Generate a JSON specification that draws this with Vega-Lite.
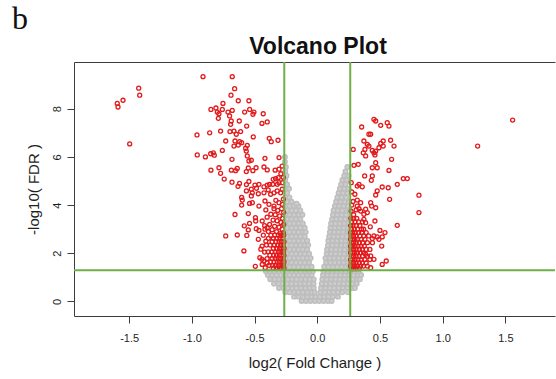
{
  "$schema": "https://vega.github.io/schema/vega-lite/v6.json",
  "padding": {"left": 12, "top": 3, "right": 0, "bottom": 6},
  "background": "white",
  "title": {"text": "b", "font": "Liberation Serif", "fontSize": 32, "fontWeight": "normal", "color": "#111111", "anchor": "start", "frame": "bounds", "dx": -14, "offset": 0},
  "datasets": {
    "gray": [
      {"x":-0.125,"y":0.02},{"x":-0.09,"y":0.02},{"x":-0.055,"y":0.02},{"x":-0.02,"y":0.02},{"x":0.015,"y":0.02},{"x":0.05,"y":0.02},{"x":0.085,"y":0.02},{"x":0.115,"y":0.02},
      {"x":-0.185,"y":0.2},{"x":-0.15,"y":0.2},{"x":-0.115,"y":0.2},{"x":-0.08,"y":0.2},{"x":-0.045,"y":0.2},{"x":-0.015,"y":0.2},{"x":0.02,"y":0.2},{"x":0.055,"y":0.2},{"x":0.09,"y":0.2},{"x":0.125,"y":0.2},{"x":0.165,"y":0.2},
      {"x":-0.255,"y":0.38},{"x":-0.22,"y":0.38},{"x":-0.185,"y":0.38},{"x":-0.15,"y":0.38},{"x":-0.115,"y":0.38},{"x":-0.08,"y":0.38},{"x":-0.045,"y":0.38},{"x":-0.02,"y":0.38},{"x":0.025,"y":0.38},{"x":0.06,"y":0.38},{"x":0.095,"y":0.38},{"x":0.13,"y":0.38},{"x":0.165,"y":0.38},{"x":0.2,"y":0.38},{"x":0.245,"y":0.38},
      {"x":-0.305,"y":0.56},{"x":-0.27,"y":0.56},{"x":-0.235,"y":0.56},{"x":-0.2,"y":0.56},{"x":-0.165,"y":0.56},{"x":-0.13,"y":0.56},{"x":-0.095,"y":0.56},{"x":-0.06,"y":0.56},{"x":-0.028,"y":0.56},{"x":0.03,"y":0.56},{"x":0.065,"y":0.56},{"x":0.1,"y":0.56},{"x":0.135,"y":0.56},{"x":0.17,"y":0.56},{"x":0.205,"y":0.56},{"x":0.24,"y":0.56},{"x":0.275,"y":0.56},{"x":0.3,"y":0.56},
      {"x":-0.345,"y":0.74},{"x":-0.31,"y":0.74},{"x":-0.275,"y":0.74},{"x":-0.24,"y":0.74},{"x":-0.205,"y":0.74},{"x":-0.17,"y":0.74},{"x":-0.135,"y":0.74},{"x":-0.1,"y":0.74},{"x":-0.065,"y":0.74},{"x":-0.03,"y":0.74},{"x":0.035,"y":0.74},{"x":0.07,"y":0.74},{"x":0.105,"y":0.74},{"x":0.14,"y":0.74},{"x":0.175,"y":0.74},{"x":0.21,"y":0.74},{"x":0.245,"y":0.74},{"x":0.28,"y":0.74},{"x":0.315,"y":0.74},
      {"x":-0.375,"y":0.92},{"x":-0.34,"y":0.92},{"x":-0.305,"y":0.92},{"x":-0.27,"y":0.92},{"x":-0.235,"y":0.92},{"x":-0.2,"y":0.92},{"x":-0.165,"y":0.92},{"x":-0.13,"y":0.92},{"x":-0.095,"y":0.92},{"x":-0.06,"y":0.92},{"x":-0.028,"y":0.92},{"x":0.04,"y":0.92},{"x":0.075,"y":0.92},{"x":0.11,"y":0.92},{"x":0.145,"y":0.92},{"x":0.18,"y":0.92},{"x":0.215,"y":0.92},{"x":0.25,"y":0.92},{"x":0.285,"y":0.92},{"x":0.32,"y":0.92},{"x":0.34,"y":0.92},
      {"x":-0.395,"y":1.1},{"x":-0.36,"y":1.1},{"x":-0.325,"y":1.1},{"x":-0.29,"y":1.1},{"x":-0.255,"y":1.1},{"x":-0.22,"y":1.1},{"x":-0.185,"y":1.1},{"x":-0.15,"y":1.1},{"x":-0.115,"y":1.1},{"x":-0.08,"y":1.1},{"x":-0.045,"y":1.1},{"x":0.045,"y":1.1},{"x":0.08,"y":1.1},{"x":0.115,"y":1.1},{"x":0.15,"y":1.1},{"x":0.185,"y":1.1},{"x":0.22,"y":1.1},{"x":0.255,"y":1.1},{"x":0.29,"y":1.1},{"x":0.325,"y":1.1},{"x":0.35,"y":1.1},
      {"x":-0.41,"y":1.26},{"x":-0.378,"y":1.26},{"x":-0.343,"y":1.26},{"x":-0.308,"y":1.26},{"x":-0.273,"y":1.26},{"x":-0.238,"y":1.26},{"x":-0.203,"y":1.26},{"x":-0.168,"y":1.26},{"x":-0.133,"y":1.26},{"x":-0.098,"y":1.26},{"x":-0.063,"y":1.26},{"x":-0.035,"y":1.26},{"x":0.05,"y":1.26},{"x":0.085,"y":1.26},{"x":0.12,"y":1.26},{"x":0.155,"y":1.26},{"x":0.19,"y":1.26},{"x":0.225,"y":1.26},{"x":0.26,"y":1.26},{"x":0.295,"y":1.26},{"x":0.33,"y":1.26},
      {"x":-0.255,"y":1.44},{"x":-0.22,"y":1.44},{"x":-0.185,"y":1.44},{"x":-0.15,"y":1.44},{"x":-0.115,"y":1.44},{"x":-0.08,"y":1.44},{"x":-0.045,"y":1.44},{"x":0.055,"y":1.44},{"x":0.09,"y":1.44},{"x":0.125,"y":1.44},{"x":0.16,"y":1.44},{"x":0.195,"y":1.44},{"x":0.23,"y":1.44},{"x":0.255,"y":1.44},
      {"x":-0.24,"y":1.62},{"x":-0.205,"y":1.62},{"x":-0.17,"y":1.62},{"x":-0.135,"y":1.62},{"x":-0.1,"y":1.62},{"x":-0.065,"y":1.62},{"x":0.07,"y":1.62},{"x":0.105,"y":1.62},{"x":0.14,"y":1.62},{"x":0.175,"y":1.62},{"x":0.21,"y":1.62},{"x":0.245,"y":1.62},
      {"x":-0.255,"y":1.8},{"x":-0.22,"y":1.8},{"x":-0.185,"y":1.8},{"x":-0.15,"y":1.8},{"x":-0.115,"y":1.8},{"x":-0.08,"y":1.8},{"x":-0.052,"y":1.8},{"x":0.065,"y":1.8},{"x":0.1,"y":1.8},{"x":0.135,"y":1.8},{"x":0.17,"y":1.8},{"x":0.205,"y":1.8},{"x":0.24,"y":1.8},
      {"x":-0.24,"y":1.98},{"x":-0.205,"y":1.98},{"x":-0.17,"y":1.98},{"x":-0.135,"y":1.98},{"x":-0.1,"y":1.98},{"x":-0.065,"y":1.98},{"x":0.075,"y":1.98},{"x":0.11,"y":1.98},{"x":0.145,"y":1.98},{"x":0.18,"y":1.98},{"x":0.215,"y":1.98},{"x":0.25,"y":1.98},
      {"x":-0.255,"y":2.16},{"x":-0.22,"y":2.16},{"x":-0.185,"y":2.16},{"x":-0.15,"y":2.16},{"x":-0.115,"y":2.16},{"x":-0.08,"y":2.16},{"x":0.078,"y":2.16},{"x":0.113,"y":2.16},{"x":0.148,"y":2.16},{"x":0.183,"y":2.16},{"x":0.218,"y":2.16},{"x":0.253,"y":2.16},
      {"x":-0.24,"y":2.34},{"x":-0.205,"y":2.34},{"x":-0.17,"y":2.34},{"x":-0.135,"y":2.34},{"x":-0.1,"y":2.34},{"x":-0.072,"y":2.34},{"x":0.085,"y":2.34},{"x":0.12,"y":2.34},{"x":0.155,"y":2.34},{"x":0.19,"y":2.34},{"x":0.225,"y":2.34},{"x":0.255,"y":2.34},
      {"x":-0.255,"y":2.52},{"x":-0.22,"y":2.52},{"x":-0.185,"y":2.52},{"x":-0.15,"y":2.52},{"x":-0.115,"y":2.52},{"x":-0.08,"y":2.52},{"x":0.088,"y":2.52},{"x":0.123,"y":2.52},{"x":0.158,"y":2.52},{"x":0.193,"y":2.52},{"x":0.228,"y":2.52},{"x":0.256,"y":2.52},
      {"x":-0.24,"y":2.7},{"x":-0.205,"y":2.7},{"x":-0.17,"y":2.7},{"x":-0.135,"y":2.7},{"x":-0.1,"y":2.7},{"x":0.095,"y":2.7},{"x":0.13,"y":2.7},{"x":0.165,"y":2.7},{"x":0.2,"y":2.7},{"x":0.235,"y":2.7},
      {"x":-0.255,"y":2.88},{"x":-0.22,"y":2.88},{"x":-0.185,"y":2.88},{"x":-0.15,"y":2.88},{"x":-0.115,"y":2.88},{"x":-0.092,"y":2.88},{"x":0.1,"y":2.88},{"x":0.135,"y":2.88},{"x":0.17,"y":2.88},{"x":0.205,"y":2.88},{"x":0.24,"y":2.88},{"x":0.257,"y":2.88},
      {"x":-0.24,"y":3.06},{"x":-0.205,"y":3.06},{"x":-0.17,"y":3.06},{"x":-0.135,"y":3.06},{"x":-0.1,"y":3.06},{"x":0.105,"y":3.06},{"x":0.14,"y":3.06},{"x":0.175,"y":3.06},{"x":0.21,"y":3.06},{"x":0.245,"y":3.06},
      {"x":-0.255,"y":3.24},{"x":-0.22,"y":3.24},{"x":-0.185,"y":3.24},{"x":-0.15,"y":3.24},{"x":-0.115,"y":3.24},{"x":0.11,"y":3.24},{"x":0.145,"y":3.24},{"x":0.18,"y":3.24},{"x":0.215,"y":3.24},{"x":0.25,"y":3.24},
      {"x":-0.24,"y":3.42},{"x":-0.205,"y":3.42},{"x":-0.17,"y":3.42},{"x":-0.135,"y":3.42},{"x":0.118,"y":3.42},{"x":0.153,"y":3.42},{"x":0.188,"y":3.42},{"x":0.223,"y":3.42},{"x":0.256,"y":3.42},
      {"x":-0.255,"y":3.6},{"x":-0.22,"y":3.6},{"x":-0.185,"y":3.6},{"x":-0.15,"y":3.6},{"x":-0.118,"y":3.6},{"x":0.125,"y":3.6},{"x":0.16,"y":3.6},{"x":0.195,"y":3.6},{"x":0.23,"y":3.6},
      {"x":-0.24,"y":3.78},{"x":-0.205,"y":3.78},{"x":-0.17,"y":3.78},{"x":-0.135,"y":3.78},{"x":0.13,"y":3.78},{"x":0.165,"y":3.78},{"x":0.2,"y":3.78},{"x":0.235,"y":3.78},{"x":0.257,"y":3.78},
      {"x":-0.255,"y":3.96},{"x":-0.22,"y":3.96},{"x":-0.185,"y":3.96},{"x":-0.15,"y":3.96},{"x":0.14,"y":3.96},{"x":0.175,"y":3.96},{"x":0.21,"y":3.96},{"x":0.245,"y":3.96},
      {"x":-0.24,"y":4.14},{"x":-0.205,"y":4.14},{"x":-0.165,"y":4.06},{"x":0.15,"y":4.14},{"x":0.185,"y":4.14},{"x":0.22,"y":4.14},{"x":0.255,"y":4.14},
      {"x":-0.255,"y":4.32},{"x":-0.222,"y":4.32},{"x":0.16,"y":4.32},{"x":0.195,"y":4.32},{"x":0.23,"y":4.32},
      {"x":-0.24,"y":4.5},{"x":0.17,"y":4.5},{"x":0.205,"y":4.5},{"x":0.24,"y":4.5},
      {"x":-0.255,"y":4.68},{"x":-0.225,"y":4.68},{"x":0.18,"y":4.68},{"x":0.215,"y":4.68},{"x":0.25,"y":4.68},
      {"x":-0.24,"y":4.86},{"x":0.19,"y":4.86},{"x":0.225,"y":4.86},
      {"x":-0.255,"y":5.04},{"x":0.2,"y":5.04},{"x":0.235,"y":5.04},
      {"x":-0.245,"y":5.22},{"x":0.215,"y":5.22},{"x":0.25,"y":5.22},
      {"x":-0.255,"y":5.4},{"x":0.225,"y":5.4},
      {"x":-0.25,"y":5.58},{"x":0.24,"y":5.58},
      {"x":-0.258,"y":5.8},{"x":-0.258,"y":6.0}
    ],
    "red": [
      {"x":-1.595,"y":8.22},{"x":-1.589,"y":8.07},{"x":-1.549,"y":8.35},{"x":-1.424,"y":8.85},{"x":-1.416,"y":8.56},{"x":-1.496,"y":6.54},
      {"x":-0.911,"y":9.33},{"x":-0.678,"y":9.33},{"x":-0.659,"y":8.83},{"x":-0.688,"y":8.56},{"x":-0.63,"y":8.33},{"x":-0.545,"y":8.33},{"x":-0.752,"y":8.22},{"x":-0.848,"y":7.97},{"x":-0.808,"y":8.03},{"x":-0.757,"y":7.97},{"x":-0.797,"y":7.86},{"x":-0.784,"y":7.79},{"x":-0.712,"y":7.86},{"x":-0.678,"y":7.93},
      {"x":-0.579,"y":7.86},{"x":-0.539,"y":7.97},{"x":-0.505,"y":7.86},{"x":-0.513,"y":7.77},{"x":-0.431,"y":7.79},{"x":-0.789,"y":7.6},{"x":-0.699,"y":7.7},{"x":-0.686,"y":7.49},{"x":-0.622,"y":7.49},{"x":-0.441,"y":7.39},{"x":-0.399,"y":7.45},{"x":-0.691,"y":7.35},{"x":-0.563,"y":7.28},
      {"x":-0.858,"y":7.0},{"x":-0.771,"y":7.07},{"x":-0.696,"y":7.05},{"x":-0.664,"y":7.07},{"x":-0.646,"y":6.94},{"x":-0.611,"y":7.05},{"x":-0.959,"y":6.91},{"x":-0.51,"y":6.83},{"x":-0.383,"y":6.77},{"x":-0.367,"y":6.63},{"x":-0.313,"y":6.69},{"x":-0.73,"y":6.66},{"x":-0.656,"y":6.66},{"x":-0.619,"y":6.63},{"x":-0.603,"y":6.59},
      {"x":-0.664,"y":6.45},{"x":-0.63,"y":6.49},{"x":-0.558,"y":6.48},{"x":-0.571,"y":6.36},{"x":-0.566,"y":6.24},{"x":-0.957,"y":6.08},{"x":-0.892,"y":6.0},{"x":-0.85,"y":6.13},{"x":-0.829,"y":6.17},{"x":-0.821,"y":6.07},{"x":-0.757,"y":6.27},{"x":-0.68,"y":5.9},{"x":-0.558,"y":6.04},{"x":-0.545,"y":5.83},{"x":-0.526,"y":5.86},{"x":-0.417,"y":5.94},{"x":-0.305,"y":5.97},
      {"x":-0.848,"y":5.45},{"x":-0.784,"y":5.55},{"x":-0.771,"y":5.32},{"x":-0.685,"y":5.45},{"x":-0.651,"y":5.43},{"x":-0.638,"y":5.52},{"x":-0.55,"y":5.54},{"x":-0.566,"y":5.39},{"x":-0.513,"y":5.43},{"x":-0.488,"y":5.55},{"x":-0.425,"y":5.58},{"x":-0.399,"y":5.46},{"x":-0.336,"y":5.45},{"x":-0.305,"y":5.49},{"x":-0.29,"y":5.3},{"x":-0.28,"y":5.62},{"x":-0.27,"y":5.15},
      {"x":-0.742,"y":5.08},{"x":-0.68,"y":4.95},{"x":-0.632,"y":4.78},{"x":-0.62,"y":4.9},{"x":-0.565,"y":4.85},{"x":-0.545,"y":4.98},{"x":-0.497,"y":4.83},{"x":-0.465,"y":4.86},{"x":-0.485,"y":4.7},{"x":-0.425,"y":4.76},{"x":-0.399,"y":4.83},{"x":-0.38,"y":4.86},{"x":-0.391,"y":4.63},{"x":-0.565,"y":4.59},{"x":-0.526,"y":4.66},{"x":-0.47,"y":4.47},{"x":-0.603,"y":4.32},{"x":-0.598,"y":4.21},{"x":-0.526,"y":4.38},{"x":-0.54,"y":4.07},{"x":-0.417,"y":4.17},{"x":-0.603,"y":4.0},
      {"x":-0.351,"y":5.07},{"x":-0.332,"y":5.1},{"x":-0.311,"y":5.14},{"x":-0.355,"y":4.86},{"x":-0.319,"y":4.86},{"x":-0.305,"y":4.93},{"x":-0.279,"y":4.93},
      {"x":-0.518,"y":4.51},{"x":-0.425,"y":4.51},{"x":-0.372,"y":4.45},{"x":-0.345,"y":4.51},{"x":-0.319,"y":4.59},{"x":-0.292,"y":4.51},{"x":-0.279,"y":4.66},{"x":-0.518,"y":4.1},{"x":-0.465,"y":3.96},{"x":-0.385,"y":4.03},{"x":-0.345,"y":3.96},{"x":-0.305,"y":4.1},{"x":-0.279,"y":4.03},{"x":-0.493,"y":3.48},{"x":-0.439,"y":3.34},
      {"x":-0.656,"y":3.61},{"x":-0.55,"y":3.65},{"x":-0.491,"y":3.34},{"x":-0.54,"y":3.24},{"x":-0.582,"y":3.14},{"x":-0.487,"y":3.02},{"x":-0.465,"y":2.95},{"x":-0.55,"y":2.97},{"x":-0.417,"y":3.0},{"x":-0.399,"y":3.06},{"x":-0.73,"y":2.72},{"x":-0.638,"y":2.76},{"x":-0.562,"y":2.74},{"x":-0.47,"y":2.58},{"x":-0.585,"y":2.1},{"x":-0.45,"y":2.17},{"x":-0.458,"y":1.82},{"x":-0.441,"y":1.75},{"x":-0.494,"y":1.46},{"x":-0.425,"y":1.68},{"x":-0.439,"y":1.54},
      {"x":-0.41,"y":3.8},{"x":-0.4,"y":3.5},{"x":-0.42,"y":3.15},{"x":-0.39,"y":2.9},{"x":-0.43,"y":2.75},{"x":-0.41,"y":2.5},{"x":-0.44,"y":2.3},{"x":-0.42,"y":2.05},{"x":-0.4,"y":1.6},{"x":-0.415,"y":1.4},
      {"x":-0.33,"y":4.2},{"x":-0.27,"y":4.25},{"x":-0.345,"y":3.85},{"x":-0.315,"y":3.78},{"x":-0.285,"y":3.85},{"x":-0.268,"y":3.7},{"x":-0.37,"y":3.62},{"x":-0.335,"y":3.6},{"x":-0.3,"y":3.55},{"x":-0.278,"y":3.45},{"x":-0.352,"y":3.38},{"x":-0.32,"y":3.35},{"x":-0.29,"y":3.28},{"x":-0.268,"y":3.2},{"x":-0.38,"y":3.2},{"x":-0.34,"y":3.12},{"x":-0.305,"y":3.08},{"x":-0.28,"y":3.0},{"x":-0.36,"y":2.98},{"x":-0.325,"y":2.9},{"x":-0.27,"y":2.85},{"x":-0.295,"y":2.82},
      {"x":-0.268,"y":2.75},{"x":-0.288,"y":2.75},{"x":-0.31,"y":2.75},{"x":-0.34,"y":2.75},{"x":-0.37,"y":2.75},
      {"x":-0.275,"y":2.62},{"x":-0.298,"y":2.62},{"x":-0.322,"y":2.62},{"x":-0.35,"y":2.62},{"x":-0.39,"y":2.62},
      {"x":-0.266,"y":2.48},{"x":-0.285,"y":2.48},{"x":-0.305,"y":2.48},{"x":-0.33,"y":2.48},{"x":-0.36,"y":2.48},
      {"x":-0.272,"y":2.34},{"x":-0.292,"y":2.34},{"x":-0.315,"y":2.34},{"x":-0.342,"y":2.34},{"x":-0.375,"y":2.34},{"x":-0.405,"y":2.34},
      {"x":-0.265,"y":2.2},{"x":-0.282,"y":2.2},{"x":-0.3,"y":2.2},{"x":-0.322,"y":2.2},{"x":-0.35,"y":2.2},
      {"x":-0.27,"y":2.06},{"x":-0.29,"y":2.06},{"x":-0.31,"y":2.06},{"x":-0.335,"y":2.06},{"x":-0.362,"y":2.06},{"x":-0.392,"y":2.06},
      {"x":-0.266,"y":1.92},{"x":-0.283,"y":1.92},{"x":-0.302,"y":1.92},{"x":-0.325,"y":1.92},{"x":-0.348,"y":1.92},{"x":-0.378,"y":1.92},
      {"x":-0.272,"y":1.78},{"x":-0.292,"y":1.78},{"x":-0.312,"y":1.78},{"x":-0.335,"y":1.78},{"x":-0.36,"y":1.78},{"x":-0.4,"y":1.78},
      {"x":-0.265,"y":1.64},{"x":-0.28,"y":1.64},{"x":-0.3,"y":1.64},{"x":-0.32,"y":1.64},{"x":-0.345,"y":1.64},{"x":-0.372,"y":1.64},
      {"x":-0.27,"y":1.5},{"x":-0.29,"y":1.5},{"x":-0.31,"y":1.5},{"x":-0.333,"y":1.5},{"x":-0.358,"y":1.5},{"x":-0.385,"y":1.5},
      {"x":-0.266,"y":1.38},{"x":-0.284,"y":1.38},{"x":-0.303,"y":1.38},{"x":-0.325,"y":1.38},{"x":-0.35,"y":1.38},
      {"x":1.558,"y":7.53},{"x":1.279,"y":6.45},
      {"x":0.452,"y":7.56},{"x":0.466,"y":7.49},{"x":0.558,"y":7.42},{"x":0.572,"y":7.28},{"x":0.506,"y":7.31},{"x":0.354,"y":7.24},{"x":0.412,"y":6.94},{"x":0.426,"y":6.94},{"x":0.372,"y":6.66},{"x":0.399,"y":6.52},{"x":0.412,"y":6.45},{"x":0.526,"y":6.66},{"x":0.506,"y":6.56},{"x":0.492,"y":6.38},{"x":0.585,"y":6.69},{"x":0.612,"y":6.45},{"x":0.38,"y":6.31},{"x":0.367,"y":6.17},{"x":0.439,"y":6.27},{"x":0.452,"y":6.17},{"x":0.466,"y":6.24},{"x":0.526,"y":6.45},{"x":0.287,"y":6.31},{"x":0.386,"y":6.04},{"x":0.46,"y":6.08},{"x":0.593,"y":5.9},{"x":0.466,"y":5.76},{"x":0.293,"y":5.65},{"x":0.327,"y":5.69},{"x":0.439,"y":5.55},{"x":0.478,"y":5.55},{"x":0.572,"y":5.44},{"x":0.378,"y":5.21},{"x":0.439,"y":5.21},{"x":0.431,"y":5.03},{"x":0.686,"y":5.1},{"x":0.718,"y":5.1},{"x":0.638,"y":4.86},{"x":0.333,"y":4.86},{"x":0.319,"y":4.79},{"x":0.359,"y":4.76},{"x":0.271,"y":4.93},{"x":0.518,"y":4.75},{"x":0.566,"y":4.72},{"x":0.478,"y":4.59},{"x":0.466,"y":4.42},{"x":0.811,"y":4.41},{"x":0.577,"y":4.24},
      {"x":0.811,"y":3.69},{"x":0.638,"y":3.16},{"x":0.319,"y":4.21},{"x":0.346,"y":4.1},{"x":0.426,"y":4.1},{"x":0.434,"y":3.96},{"x":0.386,"y":3.83},{"x":0.399,"y":3.69},{"x":0.466,"y":3.89},{"x":0.46,"y":3.34},{"x":0.423,"y":3.1},{"x":0.372,"y":3.41},{"x":0.386,"y":3.27},{"x":0.354,"y":3.0},{"x":0.452,"y":2.72},{"x":0.478,"y":2.68},{"x":0.492,"y":2.58},{"x":0.518,"y":2.68},{"x":0.439,"y":2.61},{"x":0.514,"y":2.3},{"x":0.386,"y":1.96},{"x":0.426,"y":1.89},{"x":0.452,"y":1.75},{"x":0.518,"y":1.54},{"x":0.55,"y":1.68},{"x":0.399,"y":1.47},{"x":0.426,"y":1.4},{"x":0.319,"y":3.96},{"x":0.333,"y":3.85},{"x":0.346,"y":3.75},{"x":0.372,"y":3.62},{"x":0.54,"y":2.86},{"x":0.5,"y":2.95},
      {"x":0.275,"y":4.55},{"x":0.3,"y":4.45},{"x":0.285,"y":4.15},{"x":0.31,"y":3.8},{"x":0.27,"y":3.75},{"x":0.29,"y":3.6},{"x":0.275,"y":4.0},
      {"x":0.268,"y":3.45},{"x":0.29,"y":3.45},{"x":0.315,"y":3.45},
      {"x":0.275,"y":3.3},{"x":0.3,"y":3.3},{"x":0.33,"y":3.3},{"x":0.36,"y":3.3},
      {"x":0.266,"y":3.15},{"x":0.285,"y":3.15},{"x":0.31,"y":3.15},{"x":0.34,"y":3.15},
      {"x":0.272,"y":3.0},{"x":0.295,"y":3.0},{"x":0.32,"y":3.0},{"x":0.37,"y":3.0},
      {"x":0.266,"y":2.86},{"x":0.283,"y":2.86},{"x":0.302,"y":2.86},{"x":0.33,"y":2.86},{"x":0.355,"y":2.86},{"x":0.39,"y":2.86},
      {"x":0.27,"y":2.72},{"x":0.29,"y":2.72},{"x":0.31,"y":2.72},{"x":0.34,"y":2.72},{"x":0.37,"y":2.72},{"x":0.41,"y":2.72},
      {"x":0.266,"y":2.58},{"x":0.282,"y":2.58},{"x":0.3,"y":2.58},{"x":0.322,"y":2.58},{"x":0.35,"y":2.58},{"x":0.38,"y":2.58},
      {"x":0.272,"y":2.44},{"x":0.29,"y":2.44},{"x":0.31,"y":2.44},{"x":0.335,"y":2.44},{"x":0.362,"y":2.44},{"x":0.4,"y":2.44},{"x":0.44,"y":2.44},
      {"x":0.266,"y":2.3},{"x":0.283,"y":2.3},{"x":0.302,"y":2.3},{"x":0.325,"y":2.3},{"x":0.35,"y":2.3},{"x":0.375,"y":2.3},
      {"x":0.27,"y":2.16},{"x":0.29,"y":2.16},{"x":0.31,"y":2.16},{"x":0.335,"y":2.16},{"x":0.36,"y":2.16},{"x":0.39,"y":2.16},{"x":0.42,"y":2.16},
      {"x":0.266,"y":2.02},{"x":0.282,"y":2.02},{"x":0.3,"y":2.02},{"x":0.32,"y":2.02},{"x":0.345,"y":2.02},{"x":0.37,"y":2.02},
      {"x":0.272,"y":1.88},{"x":0.29,"y":1.88},{"x":0.31,"y":1.88},{"x":0.333,"y":1.88},{"x":0.36,"y":1.88},{"x":0.4,"y":1.88},
      {"x":0.266,"y":1.74},{"x":0.283,"y":1.74},{"x":0.302,"y":1.74},{"x":0.325,"y":1.74},{"x":0.35,"y":1.74},{"x":0.38,"y":1.74},{"x":0.42,"y":1.74},
      {"x":0.27,"y":1.6},{"x":0.29,"y":1.6},{"x":0.31,"y":1.6},{"x":0.335,"y":1.6},{"x":0.36,"y":1.6},{"x":0.39,"y":1.6},
      {"x":0.266,"y":1.47},{"x":0.282,"y":1.47},{"x":0.3,"y":1.47},{"x":0.32,"y":1.47},{"x":0.345,"y":1.47},{"x":0.37,"y":1.47},
      {"x":0.272,"y":1.36},{"x":0.29,"y":1.36},{"x":0.31,"y":1.36},{"x":0.335,"y":1.36}
    ],
    "fcCut": [{"fc": -0.263}, {"fc": 0.263}],
    "fdrCut": [{"q": 1.301}]
  },
  "config": {
    "view": {"stroke": null},
    "locale": {"number": {"decimal": ".", "thousands": ",", "grouping": [3], "currency": ["$", ""], "minus": "-"}},
    "font": "Liberation Sans",
    "axis": {"grid": false, "domainColor": "#3c3c3c", "tickColor": "#3c3c3c", "labelColor": "#1e1e1e", "titleColor": "#1e1e1e", "labelFont": "Liberation Sans", "titleFont": "Liberation Sans", "labelFontSize": 11, "titleFontSize": 15, "titleFontWeight": "normal", "tickSize": 7, "domainWidth": 1, "tickWidth": 1, "labelFlush": false, "labelOverlap": false},
    "axisX": {"labelPadding": 9, "titlePadding": 12},
    "axisY": {"labelPadding": 5, "titlePadding": 10}
  },
  "vconcat": [
    {
      "width": 481,
      "height": 254,
      "title": {"text": "Volcano Plot", "font": "Liberation Sans", "fontSize": 23, "fontWeight": "bold", "color": "#111111", "anchor": "middle", "frame": "group", "dx": 3.5, "offset": 2},
      "layer": [
        {
          "data": {"name": "gray"},
          "mark": {"type": "point", "shape": "circle", "filled": true, "fill": "#cdcdcd", "stroke": "#bdbdbd", "size": 20, "strokeWidth": 1.4, "opacity": 1, "fillOpacity": 1},
          "encoding": {
            "x": {"field": "x", "type": "quantitative", "scale": {"domain": [-1.94, 1.896], "nice": false, "zero": false},
                  "axis": {"values": [-1.5, -1, -0.5, 0, 0.5, 1, 1.5], "format": ".1f", "title": "log2( Fold Change )"}},
            "y": {"field": "y", "type": "quantitative", "scale": {"domain": [-0.602, 9.938], "nice": false, "zero": false},
                  "axis": {"values": [0, 2, 4, 6, 8], "labelAngle": -90, "title": "-log10( FDR )"}}
          }
        },
        {
          "data": {"name": "red"},
          "mark": {"type": "point", "shape": "circle", "filled": false, "color": "#e31a1c", "size": 16, "strokeWidth": 1.3, "opacity": 1},
          "encoding": {
            "x": {"field": "x", "type": "quantitative", "axis": {"orient": "top", "labels": false, "ticks": false, "title": null, "domain": true}},
            "y": {"field": "y", "type": "quantitative"}
          }
        },
        {
          "data": {"name": "fcCut"},
          "mark": {"type": "rule", "color": "#6db146", "strokeWidth": 2},
          "encoding": {"x": {"field": "fc", "type": "quantitative", "axis": null}}
        },
        {
          "data": {"name": "fdrCut"},
          "mark": {"type": "rule", "color": "#6db146", "strokeWidth": 2},
          "encoding": {"y": {"field": "q", "type": "quantitative"}}
        }
      ],
      "resolve": {"axis": {"x": "independent"}}
    }
  ]
}
